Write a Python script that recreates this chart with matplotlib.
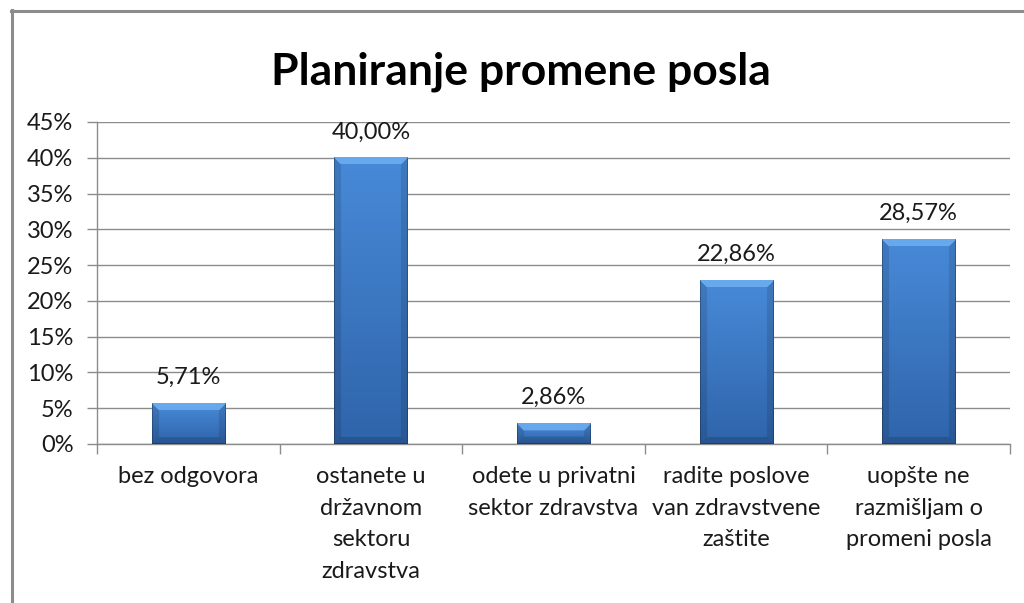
import numpy as np
import matplotlib
matplotlib.use("Agg")
import matplotlib.pyplot as plt
from matplotlib.lines import Line2D

categories = ["bez odgovora",
              "ostanete u\ndržavnom\nsektoru\nzdravstva",
              "odete u privatni\nsektor zdravstva",
              "radite poslove\nvan zdravstvene\nzaštite",
              "uopšte ne\nrazmišljam o\npromeni posla"]
values = [5.71, 40.00, 2.86, 22.86, 28.57]
yticks = [0, 5, 10, 15, 20, 25, 30, 35, 40, 45]

plt.rcParams['font.family'] = ['Lato', 'DejaVu Sans']

fig = plt.figure(figsize=(10.24, 6.03), dpi=100)
W, H = 1024, 603

# outer chart frame (cut by the image edge)
fig.add_artist(Line2D([11.5 / W, 11.5 / W], [1 - 10 / H, 0], color='#8c8c8c', lw=2.2))
fig.add_artist(Line2D([11 / W, 1], [1 - 10.5 / H, 1 - 10.5 / H], color='#8c8c8c', lw=2.2))
# caption above the chart, only its lower edge is inside the picture
fig.text(16 / W, 1 + 3 / H, "Grafikon 13.", family='Liberation Serif', fontweight='bold',
         fontsize=16, va='baseline', ha='left')

ax = fig.add_axes([97 / W, 1 - 444 / H, (1010 - 97) / W, (444 - 122) / H])
x = np.arange(len(categories))
ax.set_xlim(-0.5, len(categories) - 0.5)
ax.set_ylim(0, 45)

bars = ax.bar(x, values, width=0.4, color='#3b74bd', zorder=3)

# bevelled gradient fill of each bar
c_top = np.array([0x48, 0x8a, 0xd8]) / 255
c_bot = np.array([0x2f, 0x64, 0xaa]) / 255
c_light = np.array([0x6e, 0xae, 0xf0]) / 255
for b in bars:
    x0, w, h = b.get_x(), b.get_width(), b.get_height()
    p0 = ax.transData.transform((x0, 0))
    p1 = ax.transData.transform((x0 + w, h))
    wpx = max(int(round(p1[0] - p0[0])), 2)
    hpx = max(int(round(p1[1] - p0[1])), 2)
    bev = 7
    ii, jj = np.mgrid[0:hpx, 0:wpx]
    t = (ii / max(hpx - 1, 1))[..., None]
    img = c_top * (1 - t) + c_bot * t
    dt, db, dl, dr = ii, hpx - 1 - ii, jj, wpx - 1 - jj
    m = np.minimum(np.minimum(dt, db), np.minimum(dl, dr))
    edge = m < bev
    top = edge & (dt == m)
    bottom = edge & (db == m) & ~top
    side = edge & ~top & ~bottom
    img[top] = c_light * 0.85 + img[top] * 0.15
    img[bottom] = img[bottom] * 0.85
    img[side] = img[side] * 0.88
    img[(dl == 0) | (dr == 0) | (db == 0)] *= 0.75
    ax.imshow(img, extent=(x0, x0 + w, 0, h), aspect='auto', zorder=4,
              interpolation='bilinear', clip_path=b, clip_on=True)
    ax.annotate(f"{h:.2f}%".replace('.', ','), (x0 + w / 2, h), xytext=(0, 11),
                textcoords='offset points', ha='center', va='bottom',
                fontsize=17, color='#1a1a1a', zorder=5)

ax.set_xlim(-0.5, len(categories) - 0.5)
ax.set_ylim(0, 45)

ax.set_yticks(yticks)
ax.set_yticklabels([f"{v}%" for v in yticks])
ax.set_xticks(x)
ax.set_xticklabels(categories, linespacing=1.62, va='top')
ax.set_xticks(np.arange(-0.5, len(categories)), minor=True)
ax.tick_params(axis='x', which='major', length=0, pad=16, labelsize=17, labelcolor='#1a1a1a')
ax.tick_params(axis='x', which='minor', length=7, width=1, color='#8c8c8c')
ax.tick_params(axis='y', length=7, width=1, color='#8c8c8c', pad=10,
               labelsize=17, labelcolor='#1a1a1a')

ax.grid(axis='y', color='#8c8c8c', lw=1, zorder=0)
ax.set_axisbelow(True)
for s in ['top', 'right']:
    ax.spines[s].set_visible(False)
for s in ['left', 'bottom']:
    ax.spines[s].set_color('#8c8c8c')
    ax.spines[s].set_linewidth(1)

fig.text(521 / W, 1 - 72 / H, "Planiranje promene posla", ha='center', va='center',
         fontsize=32, fontweight='bold', color='black')

fig.savefig("out.png", dpi=100)
